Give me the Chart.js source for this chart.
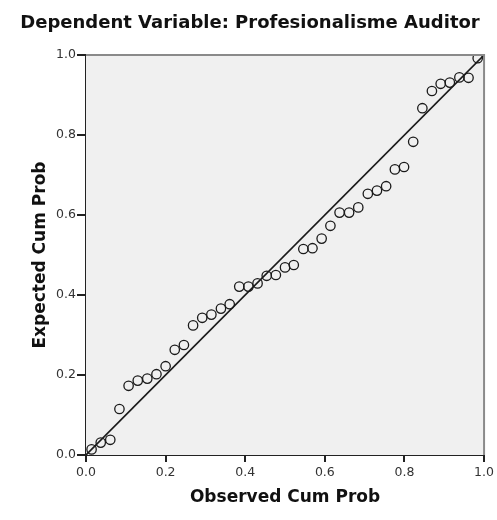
<!DOCTYPE html>
<html>
<head>
<meta charset="utf-8">
<script src="https://cdn.jsdelivr.net/npm/chart.js@4/dist/chart.umd.min.js"></script>
<style>
html,body{margin:0;padding:0;background:#fff;}
#wrap{width:497px;height:520px;}
</style>
</head>
<body>
<div id="wrap"><canvas id="c" width="497" height="520"></canvas></div>
<script>
const chartTitle = "Dependent Variable: Profesionalisme Auditor";
const xTitle = "Observed Cum Prob";
const yTitle = "Expected Cum Prob";
const tickValues = [0.0, 0.2, 0.4, 0.6, 0.8, 1.0];

const observedCumProb = [0.014,0.037,0.061,0.084,0.107,0.130,0.154,0.177,0.200,0.223,0.246,0.269,0.292,0.315,0.339,0.361,0.385,0.408,0.431,0.454,0.477,0.500,0.522,0.546,0.569,0.592,0.614,0.637,0.661,0.684,0.708,0.731,0.754,0.776,0.799,0.822,0.845,0.869,0.891,0.914,0.938,0.961,0.984];
const expectedCumProb = [0.014,0.031,0.038,0.115,0.173,0.186,0.191,0.202,0.222,0.263,0.275,0.324,0.343,0.351,0.366,0.377,0.421,0.421,0.429,0.448,0.450,0.469,0.475,0.515,0.517,0.541,0.573,0.606,0.606,0.619,0.653,0.661,0.672,0.714,0.720,0.783,0.867,0.910,0.928,0.931,0.944,0.943,0.992];
const refLineX = [0, 1];
const refLineY = [0, 1];

const FONT = "'DejaVu Sans', sans-serif";

const bgPlugin = {
  id: 'bg',
  beforeDatasetsDraw(chart) {
    const {ctx, chartArea: a} = chart;
    ctx.save();
    ctx.fillStyle = '#f0f0f0';
    ctx.fillRect(a.left, a.top, a.right - a.left, a.bottom - a.top);
    ctx.restore();
  },
  afterDraw(chart) {
    const {ctx, chartArea: a} = chart;
    ctx.save();
    ctx.strokeStyle = '#8a8a8a';
    ctx.lineWidth = 2;
    ctx.beginPath();
    ctx.moveTo(a.left, a.top);
    ctx.lineTo(a.right, a.top);
    ctx.lineTo(a.right, a.bottom);
    ctx.stroke();
    ctx.fillStyle = '#111';
    ctx.font = "bold 18px " + FONT;
    ctx.textAlign = 'center';
    ctx.textBaseline = 'middle';
    ctx.fillText(chartTitle, 250, 23);
    ctx.restore();
  }
};

new Chart(document.getElementById('c'), {
  type: 'scatter',
  data: {
    datasets: [
      {
        data: refLineX.map((x, i) => ({x: x, y: refLineY[i]})),
        showLine: true,
        borderColor: '#1a1a1a',
        borderWidth: 1.6,
        pointRadius: 0,
        fill: false,
        order: 2
      },
      {
        data: observedCumProb.map((x, i) => ({x: x, y: expectedCumProb[i]})),
        pointRadius: 4.7,
        pointBorderWidth: 1.3,
        pointBorderColor: '#1a1a1a',
        pointBackgroundColor: 'rgba(0,0,0,0)',
        showLine: false,
        order: 1
      }
    ]
  },
  plugins: [bgPlugin],
  options: {
    responsive: false,
    animation: false,
    layout: {padding: {top: 55, right: 11, left: 0, bottom: 0}},
    plugins: {legend: {display: false}, tooltip: {enabled: false}, title: {display: false}},
    scales: {
      x: {
        type: 'linear', min: 0, max: 1,
        afterFit(s) { s.height = 65; },
        afterBuildTicks(s) { s.ticks = tickValues.map(v => ({value: v})); },
        ticks: {font: {family: FONT, size: 12.5}, color: '#333', padding: 3, callback: v => v.toFixed(1), maxRotation: 0},
        grid: {drawOnChartArea: false, drawTicks: true, tickLength: 7, color: '#222', lineWidth: 2},
        border: {color: '#222', width: 2},
        title: {display: true, text: xTitle, font: {family: FONT, size: 17, weight: 'bold'}, color: '#111', padding: {top: 0, bottom: 12}}
      },
      y: {
        type: 'linear', min: 0, max: 1,
        afterFit(s) { s.width = 86; },
        afterBuildTicks(s) { s.ticks = tickValues.map(v => ({value: v})); },
        ticks: {font: {family: FONT, size: 12.5}, color: '#333', padding: 1, callback: v => v.toFixed(1)},
        grid: {drawOnChartArea: false, drawTicks: true, tickLength: 9, color: '#222', lineWidth: 2},
        border: {color: '#222', width: 2},
        title: {display: true, text: yTitle, font: {family: FONT, size: 17, weight: 'bold'}, color: '#111', padding: {top: 30, bottom: 0}}
      }
    }
  }
});
</script>
</body>
</html>
